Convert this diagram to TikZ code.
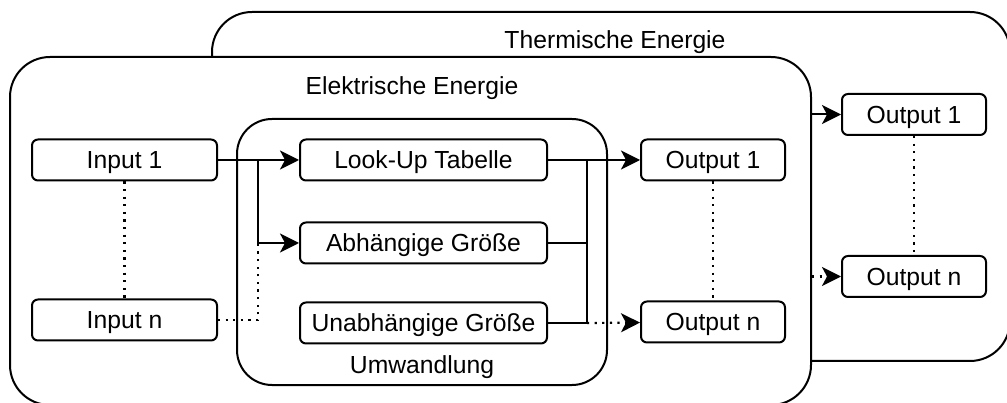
\documentclass[tikz,border=0pt]{standalone}
\usepackage{fontspec}
\setmainfont{Liberation Sans}
\usetikzlibrary{positioning,arrows.meta}

\begin{document}
\begin{tikzpicture}[
	x=1pt, y=-1pt,
	every node/.style={font=\fontsize{24.7pt}{29pt}\selectfont},
	frame/.style={rectangle, draw=black, line width=2pt, rounded corners=40pt, fill=white, inner sep=0pt},
	block/.style={rectangle, draw=black, line width=2pt, rounded corners=6pt, minimum height=41pt, inner sep=0pt, text height=17.7pt, text depth=0pt},
	inbox/.style={block, minimum width=185pt},
	convbox/.style={block, minimum width=247pt},
	outbox/.style={block, minimum width=144pt},
	title/.style={rectangle, inner sep=0pt},
	dots/.style={line width=2.2pt, dash pattern=on 2.2pt off 5.4pt},
	arrowtip/.style={-{Stealth[length=19pt, width=19pt, inset=5pt]}}
]
	\useasboundingbox (0,0) rectangle (1007,403);
	% frames
	\node[frame, minimum width=798pt, minimum height=349pt] (thermal) at (611,186.5) {};
	\node[title] (thermaltitle) at (615,42) {Thermische Energie};
	\node[frame, minimum width=801pt, minimum height=348pt] (elec) at (410.5,231) {};
	\node[title] (electitle) at (412,88) {Elektrische Energie};
	\node[frame, rounded corners=35pt, minimum width=370pt, minimum height=266pt] (conv) at (422,252) {};
	\node[title] (convtitle) at (422,367) {Umwandlung};
	% blocks
	\node[inbox] (inone) at (124.5,160) {Input 1};
	\node[inbox] (inn) [below=117pt of inone] {Input n};
	\node[convbox] (lut) [right=81pt of inone] {Look-Up Tabelle};
	\node[convbox] (dep) [below=40pt of lut] {Abhängige Größe};
	\node[convbox] (indep) [below=37pt of dep] {Unabhängige Größe};
	\node[outbox] (outone) [right=92pt of lut] {Output 1};
	\node[outbox] (outn) [below=119pt of outone] {Output n};
	\node[outbox] (thoutone) at (914,114.5) {Output 1};
	\node[outbox] (thoutn) [below=119pt of thoutone] {Output n};
	\coordinate (split) at (258,160);
	\coordinate (join) at (587,160);
	\begin{scope}[line width=2pt]
	\draw[arrowtip] (inone) -- (lut);
	\draw[arrowtip] (split) |- (dep);
	\draw[dots] (inn) -| (split |- dep);
	\draw[arrowtip] (lut) -- (outone);
	\draw (dep) -| (join);
	\draw (indep) -| (join);
	\draw[dots, arrowtip] (join |- indep) -- (outn);
	\draw[dots] (inone) -- (inn);
	\draw[dots] (outone) -- (outn);
	\draw[dots] (thoutone) -- (thoutn);
	\draw[arrowtip] (elec.east |- thoutone) -- (thoutone);
	\draw[dots, arrowtip] (elec.east |- thoutn) -- (thoutn);
	\end{scope}
\end{tikzpicture}
\end{document}
